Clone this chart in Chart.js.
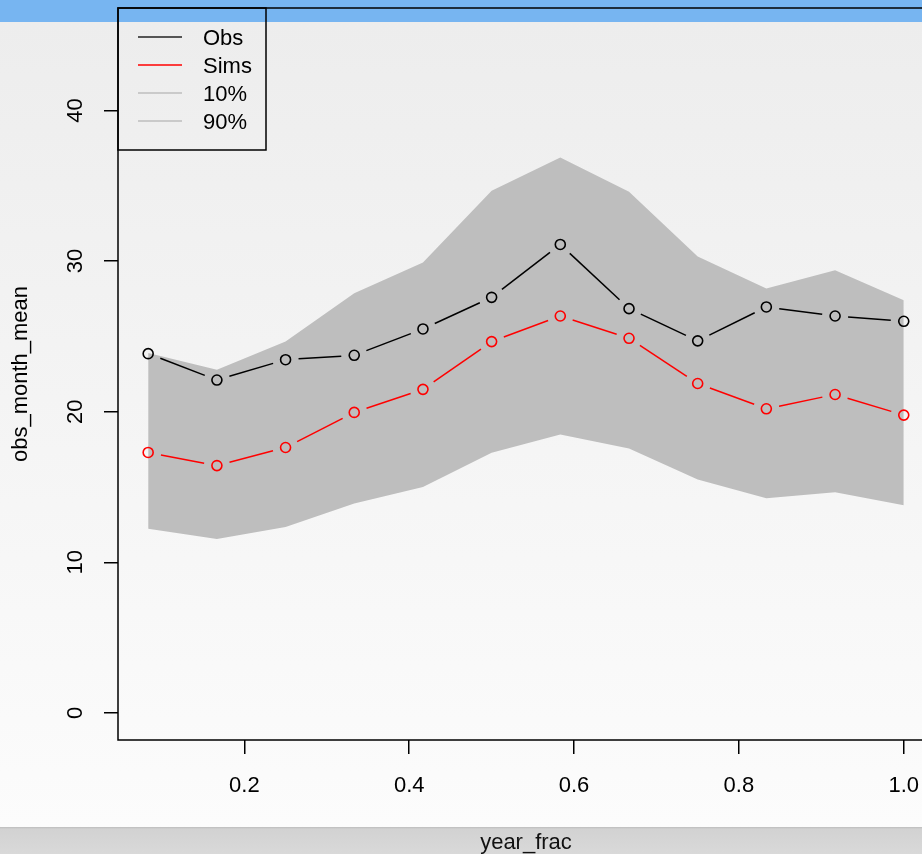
<!DOCTYPE html>
<html>
<head>
<meta charset="utf-8">
<script src="https://cdn.jsdelivr.net/npm/chart.js@4.4.1/dist/chart.umd.min.js"></script>
<style>
  html, body { margin: 0; padding: 0; width: 922px; height: 854px; overflow: hidden; }
  body {
    position: relative;
    background: linear-gradient(to bottom, #77b5f1 0px, #77b5f1 22px, #ededed 22px, #fcfcfc 827px);
  }
  #bottombar {
    position: absolute; left: 0; top: 827px; width: 922px; height: 27px;
    background: linear-gradient(to bottom, #bdbdbd 0px, #d2d2d2 2px, #d9d9d9 27px);
  }
  #wrap { position: absolute; left: 0; top: 0; width: 950px; height: 854px; }
</style>
</head>
<body>
<div id="bottombar"></div>
<div id="wrap"><canvas id="c" width="950" height="854"></canvas></div>
<script>
// Monthly means by fraction of the year
const yearFrac = [0.0833, 0.1667, 0.25, 0.3333, 0.4167, 0.5, 0.5833, 0.6667, 0.75, 0.8333, 0.9167, 1.0];
const obsMean  = [23.85, 22.10, 23.45, 23.74, 25.49, 27.59, 31.10, 26.84, 24.70, 26.95, 26.35, 26.00];
const simsMean = [17.29, 16.42, 17.62, 19.95, 21.48, 24.65, 26.35, 24.87, 21.87, 20.19, 21.14, 19.77];
const sims10   = [12.23, 11.55, 12.35, 13.90, 15.00, 17.27, 18.48, 17.55, 15.49, 14.25, 14.65, 13.78];
const sims90   = [23.90, 22.79, 24.65, 27.86, 29.90, 34.66, 36.88, 34.60, 30.30, 28.17, 29.39, 27.39];
const xTicks = [0.2, 0.4, 0.6, 0.8, 1.0];
const yTicks = [0, 10, 20, 30, 40];
const legendOrder = ['Obs', 'Sims', '10%', '90%'];

const FONT = '"Liberation Sans", Arial, Helvetica, sans-serif';
const FSIZE = 22;
const BAND = '#bebebe';

const pts = arr => arr.map((v, i) => ({ x: yearFrac[i], y: v }));

// R-style "b" lines: segments stop short of each point marker
const gappedLines = {
  id: 'gappedLines',
  afterDatasetsDraw(chart) {
    const ctx = chart.ctx;
    const gap = 13;
    chart.data.datasets.forEach((ds, di) => {
      if (!ds.gapped) return;
      const meta = chart.getDatasetMeta(di);
      ctx.save();
      ctx.beginPath();
      ctx.rect(chart.chartArea.left, chart.chartArea.top, chart.chartArea.width, chart.chartArea.height);
      ctx.clip();
      ctx.strokeStyle = ds.borderColor;
      ctx.lineWidth = 1.5;
      for (let i = 0; i < meta.data.length - 1; i++) {
        const a = meta.data[i], b = meta.data[i + 1];
        const dx = b.x - a.x, dy = b.y - a.y;
        const len = Math.hypot(dx, dy);
        if (len <= 2 * gap) continue;
        const ux = dx / len, uy = dy / len;
        ctx.beginPath();
        ctx.moveTo(a.x + ux * gap, a.y + uy * gap);
        ctx.lineTo(b.x - ux * gap, b.y - uy * gap);
        ctx.stroke();
      }
      ctx.restore();
    });
  }
};

// Plot box, rotated y labels, y title and legend
const decorations = {
  id: 'decorations',
  afterDraw(chart) {
    const ctx = chart.ctx;
    const area = chart.chartArea;
    const ys = chart.scales.y;
    ctx.save();
    ctx.strokeStyle = '#000';
    ctx.lineWidth = 1.5;
    ctx.strokeRect(area.left, area.top, area.right - area.left, area.bottom - area.top);

    ctx.fillStyle = '#000';
    ctx.font = FSIZE + 'px ' + FONT;
    ctx.textAlign = 'center';
    ctx.textBaseline = 'middle';
    ys.ticks.forEach(t => {
      const py = ys.getPixelForValue(t.value);
      ctx.save();
      ctx.translate(76, py);
      ctx.rotate(-Math.PI / 2);
      ctx.fillText(String(t.value), 0, 0);
      ctx.restore();
    });
    ctx.save();
    ctx.translate(21, (area.top + area.bottom) / 2);
    ctx.rotate(-Math.PI / 2);
    ctx.fillText('obs_month_mean', 0, 0);
    ctx.restore();

    // legend
    const lx = area.left, ly = area.top;
    ctx.strokeRect(lx, ly, 148, 142);
    ctx.textAlign = 'left';
    legendOrder.forEach((name, i) => {
      const ds = chart.data.datasets.find(d => d.label === name);
      const y = ly + 29 + i * 28;
      ctx.strokeStyle = ds.legendColor;
      ctx.lineWidth = 1.5;
      ctx.beginPath();
      ctx.moveTo(lx + 20, y);
      ctx.lineTo(lx + 64, y);
      ctx.stroke();
      ctx.fillStyle = '#000';
      ctx.fillText(name, lx + 85, y + 1.5);
    });
    ctx.restore();
  }
};

new Chart(document.getElementById('c'), {
  type: 'line',
  data: {
    datasets: [
      { label: '10%', data: pts(sims10), borderColor: BAND, borderWidth: 0, backgroundColor: BAND,
        pointRadius: 0, fill: false, legendColor: BAND, tension: 0, order: 10 },
      { label: '90%', data: pts(sims90), borderColor: BAND, borderWidth: 0, backgroundColor: BAND,
        pointRadius: 0, fill: '-1', legendColor: BAND, tension: 0, order: 9 },
      { label: 'Obs', data: pts(obsMean), borderColor: '#000', showLine: false, gapped: true,
        pointRadius: 5, pointBorderWidth: 1.6, pointBackgroundColor: 'rgba(0,0,0,0)',
        pointBorderColor: '#000', legendColor: '#222', order: 1 },
      { label: 'Sims', data: pts(simsMean), borderColor: '#ff0000', showLine: false, gapped: true,
        pointRadius: 5, pointBorderWidth: 1.6, pointBackgroundColor: 'rgba(0,0,0,0)',
        pointBorderColor: '#ff0000', legendColor: '#ff0000', order: 0 }
    ]
  },
  options: {
    responsive: false,
    animation: false,
    devicePixelRatio: 1,
    layout: { padding: { top: 8, right: 16, left: 0, bottom: 0 } },
    plugins: { legend: { display: false }, tooltip: { enabled: false }, filler: { propagate: false } },
    scales: {
      x: {
        type: 'linear',
        min: 0.0467, max: 1.0367,
        afterBuildTicks: s => { s.ticks = xTicks.map(v => ({ value: v })); },
        afterFit: s => { s.height = 114; },
        border: { display: false },
        grid: { drawOnChartArea: false, drawTicks: true, tickLength: 14, color: '#000', lineWidth: 1.5 },
        ticks: {
          color: '#000', padding: 19, maxRotation: 0, autoSkip: false,
          font: { family: FONT, size: FSIZE },
          callback: v => v.toFixed(1)
        },
        title: { display: true, text: 'year_frac', color: '#111', padding: { top: 0, bottom: -2 },
                 font: { family: FONT, size: FSIZE } }
      },
      y: {
        type: 'linear',
        min: -1.8, max: 46.8,
        afterBuildTicks: s => { s.ticks = yTicks.map(v => ({ value: v })); },
        afterFit: s => { s.width = 118; },
        border: { display: false },
        grid: { drawOnChartArea: false, drawTicks: true, tickLength: 14, color: '#000', lineWidth: 1.5 },
        ticks: { display: false }
      }
    }
  },
  plugins: [gappedLines, decorations]
});
</script>
</body>
</html>
